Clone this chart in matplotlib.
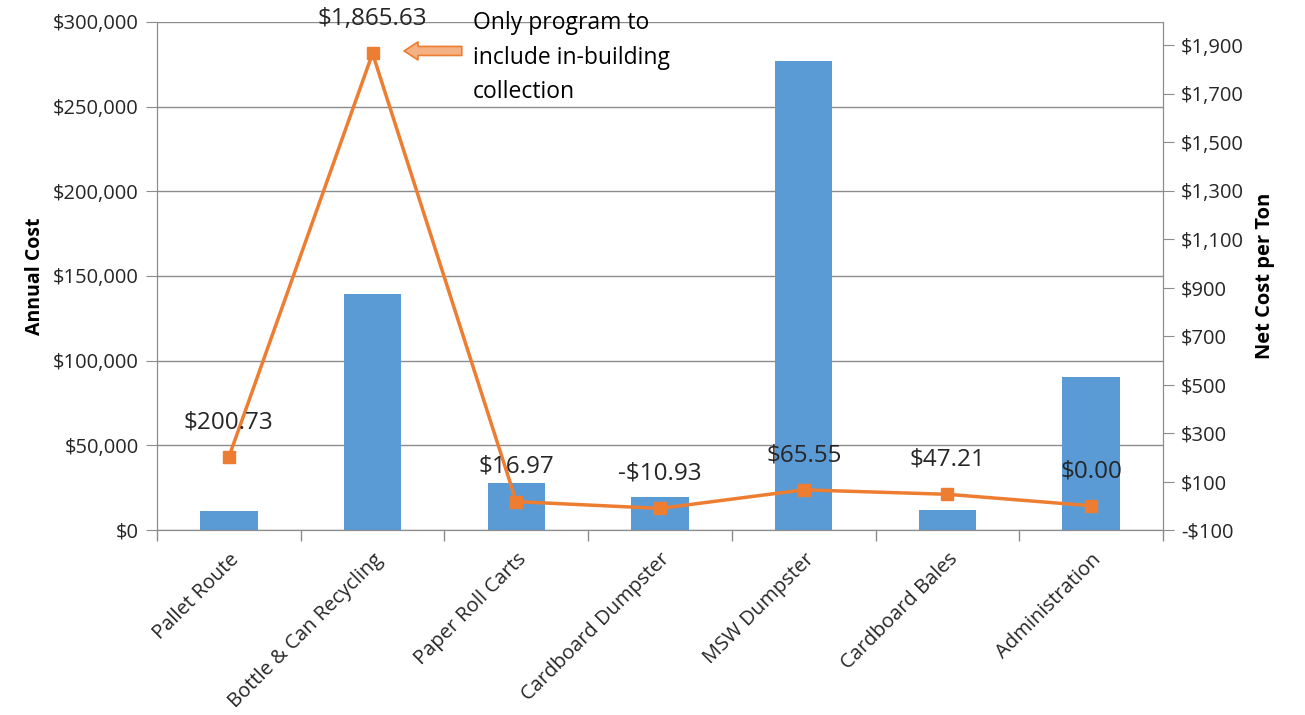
import numpy as np
import matplotlib.pyplot as plt
from matplotlib.ticker import FuncFormatter

plt.rcParams['font.family'] = ['Open Sans', 'DejaVu Sans']

categories = ['Pallet Route', 'Bottle & Can Recycling', 'Paper Roll Carts',
              'Cardboard Dumpster', 'MSW Dumpster', 'Cardboard Bales', 'Administration']
annual_cost = [11200, 139400, 27700, 19500, 277000, 11800, 90300]
net_cost_per_ton = [200.73, 1865.63, 16.97, -10.93, 65.55, 47.21, 0.00]
net_labels = ['$200.73', '$1,865.63', '$16.97', '-$10.93', '$65.55', '$47.21', '$0.00']
note = 'Only program to\ninclude in-building\ncollection'

blue = '#5B9BD5'
orange = '#ED7D31'
grid_col = '#8C8C8C'
text_col = '#262626'

fig = plt.figure(figsize=(13.05, 7.15), dpi=100)
ax = fig.add_axes([157/1305, 1-530/715, (1163-157)/1305, (530-22)/715])
ax2 = ax.twinx()

x = np.arange(len(categories))
ax.bar(x, annual_cost, width=0.4, color=blue, zorder=2)
ax.set_xlim(-0.5, len(categories) - 0.5)
ax.set_ylim(0, 300000)
ax.set_yticks(np.arange(0, 300001, 50000))
ax.yaxis.set_major_formatter(FuncFormatter(lambda v, p: '${:,.0f}'.format(v)))
ax.grid(axis='y', color=grid_col, linewidth=1, zorder=0)
ax.set_axisbelow(True)

ax.set_xticks(x)
ax.set_xticklabels(categories, rotation=45, ha='right', va='top',
                   rotation_mode='anchor', fontsize=14.5, color=text_col)
ax.tick_params(axis='x', which='major', length=0, pad=14)
ax.set_xticks(np.arange(-0.5, len(categories), 1), minor=True)
ax.tick_params(axis='x', which='minor', length=8, color=grid_col, width=1)
ax.tick_params(axis='y', length=8, color=grid_col, labelsize=14.5, labelcolor=text_col, pad=5)
ax.set_ylabel('Annual Cost', fontsize=14, fontweight='bold', color='black', labelpad=6)

ax2.plot(x, net_cost_per_ton, color=orange, linewidth=2.5, marker='s',
         markersize=9, zorder=3)
ax2.set_ylim(-100, 1995)
ax2.set_yticks(np.arange(-100, 1901, 200))
ax2.yaxis.set_major_formatter(FuncFormatter(
    lambda v, p: ('-' if v < 0 else '') + '${:,.0f}'.format(abs(v))))
ax2.tick_params(axis='y', length=8, color=grid_col, labelsize=14.5, labelcolor=text_col, pad=5)
ax2.set_ylabel('Net Cost per Ton', fontsize=14.5, fontweight='bold', color='black',
               rotation=90, labelpad=8)

for xi, yi, lab in zip(x, net_cost_per_ton, net_labels):
    ax2.annotate(lab, (xi, yi), xytext=(0, 25), textcoords='offset points',
                 ha='center', va='center', fontsize=17.5, color=text_col,
                 annotation_clip=False)

# callout for the bottle & can point
ax2.annotate('', xy=(x[1] + 0.2, net_cost_per_ton[1] + 10),
             xytext=(x[1] + 0.64, net_cost_per_ton[1] + 10),
             arrowprops=dict(arrowstyle='simple,head_width=1.3,head_length=1.0,tail_width=0.65',
                             facecolor='#F4B183', edgecolor=orange, linewidth=1.2))
ax2.text(x[1] + 0.7, 2040, note, ha='left', va='top', fontsize=16.5,
         color='black', linespacing=1.58, clip_on=False)

for a in (ax, ax2):
    a.spines['top'].set_visible(False)
    for side in ('left', 'right', 'bottom'):
        a.spines[side].set_color(grid_col)

fig.savefig('out.png', dpi=100)
